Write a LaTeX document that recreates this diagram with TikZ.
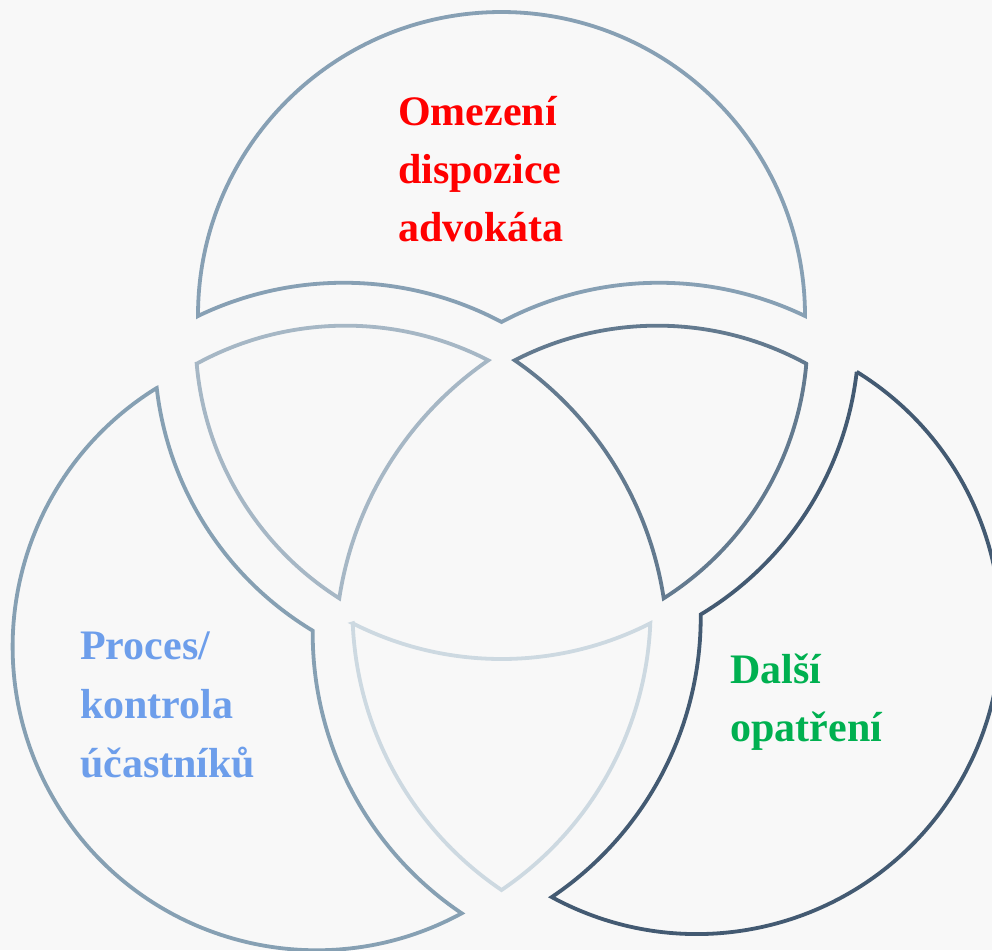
\documentclass[tikz,border=0pt]{standalone}
\usepackage{fontspec}
\setmainfont{Liberation Serif}
\definecolor{bgc}{HTML}{F8F8F8}
\definecolor{colT}{HTML}{87A0B4}
\definecolor{colL}{HTML}{86A0B3}
\definecolor{colTL}{HTML}{A6B7C5}
\definecolor{colTR}{HTML}{637A8F}
\definecolor{colB}{HTML}{CDD9E1}
\definecolor{colR}{HTML}{435A72}
\definecolor{txtred}{HTML}{FF0000}
\definecolor{txtblue}{HTML}{6D9EEB}
\definecolor{txtgreen}{HTML}{00B050}
% arc through three points (pixel coordinates, y downwards)
\newcommand\arcdef[7]{%
 \pgfmathsetmacro\qxa{#2/100}\pgfmathsetmacro\qya{#3/100}%
 \pgfmathsetmacro\qxb{#4/100}\pgfmathsetmacro\qyb{#5/100}%
 \pgfmathsetmacro\qxc{#6/100}\pgfmathsetmacro\qyc{#7/100}%
 \pgfmathsetmacro\qdd{2*(\qxa*(\qyb-\qyc)+\qxb*(\qyc-\qya)+\qxc*(\qya-\qyb))}%
 \pgfmathsetmacro\qsa{\qxa*\qxa+\qya*\qya}%
 \pgfmathsetmacro\qsb{\qxb*\qxb+\qyb*\qyb}%
 \pgfmathsetmacro\qsc{\qxc*\qxc+\qyc*\qyc}%
 \pgfmathsetmacro\qux{(\qsa*(\qyb-\qyc)+\qsb*(\qyc-\qya)+\qsc*(\qya-\qyb))/\qdd}%
 \pgfmathsetmacro\quy{(\qsa*(\qxc-\qxb)+\qsb*(\qxa-\qxc)+\qsc*(\qxb-\qxa))/\qdd}%
 \pgfmathsetmacro\qrr{100*sqrt((\qxa-\qux)^2+(\qya-\quy)^2)}%
 \pgfmathsetmacro\qS{atan2(\qya-\quy,\qxa-\qux)}%
 \pgfmathsetmacro\qM{atan2(\qyb-\quy,\qxb-\qux)}%
 \pgfmathsetmacro\qE{atan2(\qyc-\quy,\qxc-\qux)}%
 \pgfmathsetmacro\qdm{mod(\qM-\qS+720,360)}%
 \pgfmathsetmacro\qde{mod(\qE-\qS+720,360)}%
 \pgfmathsetmacro\qF{\qdm<\qde ? \qS+\qde : \qS-(360-\qde)}%
 \expandafter\xdef\csname #1\endcsname{arc[start angle=\qS, end angle=\qF, radius=\qrr]}%
}
% top piece
\arcdef{zzTa}{198}{316}{501.5}{12}{805}{316}
\arcdef{zzTb}{805}{316}{672}{283}{501.5}{322}
\arcdef{zzTc}{501.5}{322}{331}{283}{198}{316}
% top-left piece
\arcdef{zzAa}{196.7}{363.7}{331}{326}{488.3}{360.3}
\arcdef{zzAb}{488.3}{360.3}{377.7}{483.7}{339.3}{598.3}
\arcdef{zzAc}{339.3}{598.3}{253.3}{517}{196.7}{363.7}
% top-right piece
\arcdef{zzBa}{806.3}{363.7}{672}{326}{514.7}{360.3}
\arcdef{zzBb}{514.7}{360.3}{625.3}{483.7}{663.7}{598.3}
\arcdef{zzBc}{663.7}{598.3}{749.7}{517}{806.3}{363.7}
% bottom piece
\arcdef{zzCa}{352.7}{623.3}{501.5}{659}{650.3}{623.3}
\arcdef{zzCb}{650.3}{623.3}{612}{766.3}{501.5}{890}
\arcdef{zzCc}{501.5}{890}{391}{766.3}{352.7}{623.3}
% left piece
\arcdef{zzDa}{156.7}{388}{13}{632}{461.7}{913.3}
\arcdef{zzDb}{461.7}{913.3}{347.7}{783}{312.7}{630.7}
\arcdef{zzDc}{312.7}{630.7}{200}{517}{156.7}{388}
% right piece
\arcdef{zzEa}{856.7}{371.8}{1000.4}{615.8}{551.7}{897.1}
\arcdef{zzEb}{551.7}{897.1}{665.7}{766.8}{700.7}{614.5}
\arcdef{zzEc}{700.7}{614.5}{813.4}{500.8}{856.7}{371.8}
\tikzset{
 piece/.style={line width=3.8pt, line join=miter, miter limit=6},
 lbl/.style={anchor=base west, inner sep=0pt, font=\fontsize{42}{50}\selectfont\bfseries}
}
\begin{document}
\begin{tikzpicture}[x=1pt,y=-1pt]
\useasboundingbox (0,0) rectangle (992,950);
\clip (0,0) rectangle (992,950);
\fill[bgc] (0,0) rectangle (992,950);
\draw[piece, colT] (198,316) \zzTa \zzTb \zzTc -- cycle;
\draw[piece, colTL] (196.7,363.7) \zzAa \zzAb \zzAc -- cycle;
\draw[piece, colTR] (806.3,363.7) \zzBa \zzBb \zzBc -- cycle;
\draw[piece, colB] (352.7,623.3) \zzCa \zzCb \zzCc -- cycle;
\draw[piece, colL] (156.7,388) \zzDa \zzDb \zzDc -- cycle;
\draw[piece, colR] (856.7,371.8) \zzEa \zzEb \zzEc -- cycle;
\node[lbl, txtred] (t1) at (398,125) {Omezení};
\node[lbl, txtred] (t2) at (398,183) {dispozice};
\node[lbl, txtred] (t3) at (398,241.7) {advokáta};
\node[lbl, txtblue] (l1) at (80,659) {Proces/};
\node[lbl, txtblue] (l2) at (80,718) {kontrola};
\node[lbl, txtblue] (l3) at (80,777) {účastníků};
\node[lbl, txtgreen] (r1) at (730.3,683) {Další};
\node[lbl, txtgreen] (r2) at (730.3,741.3) {opatření};
\end{tikzpicture}
\end{document}
